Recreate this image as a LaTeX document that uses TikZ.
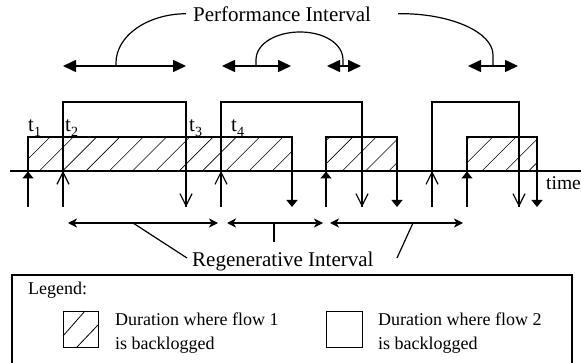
\documentclass[tikz,border=0pt]{standalone}
\usepackage{fontspec}
\setmainfont{Liberation Serif}
\usetikzlibrary{arrows.meta}

\begin{document}
\begin{tikzpicture}[x=1pt,y=-1pt,
  axisline/.style={line width=1.4pt},
  boxline/.style={line width=1.3pt},
  hatchline/.style={line width=0.6pt},
  openhead/.style={-{Straight Barb[length=12pt,width=12pt,line width=1.2pt]}},
  filledhead/.style={-{Triangle[length=7pt,width=11pt]}},
  perfarrow/.style={line width=1.6pt,{Triangle[length=13pt,width=12pt]}-{Triangle[length=13pt,width=12pt]}},
  regenarrow/.style={line width=1.2pt,{Stealth[length=9pt,width=9pt,inset=2.5pt]}-{Stealth[length=9pt,width=9pt,inset=2.5pt]}},
  pointer/.style={line width=1.2pt},
  bigtext/.style={font=\fontsize{21}{24}\selectfont,inner sep=0pt},
  legtext/.style={font=\fontsize{18}{22}\selectfont,inner sep=0pt,align=left},
  tlabel/.style={font=\fontsize{21}{24}\selectfont,inner sep=0pt,anchor=base west}
]
\useasboundingbox (0,0) rectangle (581,363);

% time axis
\coordinate (axL) at (10,171);
\coordinate (axR) at (600,171);
\draw[axisline] (axL) -- (axR);
\node[font=\fontsize{19.5}{22}\selectfont,inner sep=0pt,anchor=base west] (timelbl) at (546,190) {time};

% flow 1 backlog periods (hatched)
\foreach \a/\b [count=\i] in {28/292,326/397,467/537}{
  \begin{scope}
    \clip (\a,137) rectangle (\b,171);
    \foreach \k in {-1,...,25}
      \draw[hatchline] ({50+23.3*\k+10},127) -- ({50+23.3*\k-44},181);
  \end{scope}
  \draw[boxline] (\a,171) rectangle (\b,137);
  \coordinate (fa\i) at (\a,207);
  \coordinate (fb\i) at (\a,171);
  \coordinate (fc\i) at (\b,137);
  \coordinate (fd\i) at (\b,207);
  \draw[boxline] (fa\i) -- (fb\i);
  \draw[boxline,filledhead] (fa\i) -- ([yshift=-0.5pt]fb\i);
  \draw[boxline,filledhead] (fc\i) -- (fd\i);
}

% flow 2 backlog periods
\foreach \a/\b [count=\i] in {63/186,221/362,432/519}{
  \coordinate (ga\i) at (\a,207);
  \coordinate (gb\i) at (\a,171);
  \coordinate (gd\i) at (\b,207);
  \draw[boxline] (ga\i) -- (\a,102) -- (\b,102) -- (gd\i);
  \draw[boxline,openhead] (ga\i) -- (gb\i);
  \draw[boxline,openhead] (\b,190) -- (gd\i);
}

% time instants
\node[tlabel] (t1) at (28,132) {t\raisebox{-5pt}{\fontsize{14}{14}\selectfont 1}};
\node[tlabel] (t2) at (65,132) {t\raisebox{-5pt}{\fontsize{14}{14}\selectfont 2}};
\node[tlabel] (t3) at (189,132) {t\raisebox{-5pt}{\fontsize{14}{14}\selectfont 3}};
\node[tlabel] (t4) at (231,132) {t\raisebox{-5pt}{\fontsize{14}{14}\selectfont 4}};

% performance intervals
\coordinate (p1a) at (63,66);  \coordinate (p1b) at (186,66);
\coordinate (p2a) at (222,66); \coordinate (p2b) at (291,66);
\coordinate (p3a) at (327,66); \coordinate (p3b) at (361,66);
\coordinate (p4a) at (468,66); \coordinate (p4b) at (518,66);
\draw[perfarrow] (p1a) -- (p1b);
\draw[perfarrow] (p2a) -- (p2b);
\draw[perfarrow] (p3a) -- (p3b);
\draw[perfarrow] (p4a) -- (p4b);
\node[bigtext,anchor=base west] (perf) at (193,22) {Performance Interval};
\coordinate (pc1) at (116,66);
\coordinate (pc2) at (256,66);
\coordinate (pc3) at (343,66);
\coordinate (pc4) at (493,66);
\draw[pointer] (pc1) -- (116,63) .. controls (116,36) and (147,14) .. ([xshift=-7pt,yshift=1pt]perf.west);
\draw[pointer] (pc2) -- (256,60) .. controls (256,43) and (277,32) .. (300,32)
  .. controls (323,32) and (343,43) .. (343,60) -- (pc3);
\draw[pointer] ([xshift=27pt,yshift=1pt]perf.east) .. controls (450,13) and (493,32) .. (493,55) -- (pc4);

% regenerative intervals
\coordinate (r1a) at (68,223);  \coordinate (r1b) at (218,223);
\coordinate (r2a) at (227,223); \coordinate (r2b) at (323,223);
\coordinate (r3a) at (330,223); \coordinate (r3b) at (463,223);
\draw[regenarrow] (r1a) -- (r1b);
\draw[regenarrow] (r2a) -- (r2b);
\draw[regenarrow] (r3a) -- (r3b);
\node[bigtext,anchor=base west] (regen) at (192,267) {Regenerative Interval};
\coordinate (rc1) at (133,223);
\coordinate (rc2) at (274,223);
\coordinate (rc3) at (413,223);
\draw[pointer] (rc1) -- (187,258);
\draw[pointer] (rc2) -- (274,242);
\draw[pointer] (rc3) -- (397,258);

% legend
\draw[boxline] (12,275) rectangle (572,375);
\node[legtext,anchor=base west] (leg) at (28,295) {Legend:};
\node[draw,boxline,minimum width=35pt,minimum height=36pt,anchor=north west,inner sep=0pt] (sq1) at (63,311) {};
\draw[hatchline,line width=0.8pt] (63,336) -- (85,311);
\draw[hatchline,line width=0.8pt] (77,347) -- (98,325);
\node[legtext,anchor=base west] (l1a) at (115,326) {Duration where flow 1};
\node[legtext,anchor=base west] (l1b) at (115,349) {is backlogged};
\node[draw,boxline,minimum width=36pt,minimum height=36pt,anchor=north west,inner sep=0pt] (sq2) at (326,311) {};
\node[legtext,anchor=base west] (l2a) at (378,326) {Duration where flow 2};
\node[legtext,anchor=base west] (l2b) at (378,349) {is backlogged};
\end{tikzpicture}
\end{document}
